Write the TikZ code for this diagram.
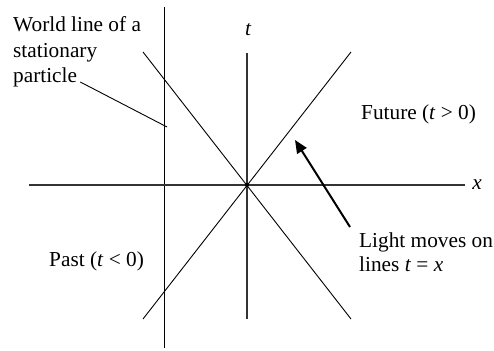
\documentclass[tikz,border=0pt]{standalone}
\usepackage{fontspec}
\setmainfont{Liberation Serif}
\usetikzlibrary{arrows.meta}
\begin{document}
\begin{tikzpicture}[x=1pt,y=1pt,
  axis/.style={line width=1.4pt, draw=black!80},
  light/.style={line width=0.9pt, draw=black},
  pointer/.style={line width=0.9pt, draw=black},
  bigarrow/.style={line width=2pt, draw=black, -{Triangle[length=13pt,width=11pt]}},
  lbl/.style={inner sep=0pt, anchor=base west, font=\fontsize{21.3}{25}\selectfont},
  axlbl/.style={inner sep=0pt, anchor=base, font=\fontsize{21.3}{25}\selectfont\itshape},
  dot/.style={circle, fill=black, inner sep=0pt, minimum size=4pt}
]
\useasboundingbox (0,0) rectangle (494,350);
% key points
\coordinate (xL) at (29,165);
\coordinate (xR) at (465,165);
\coordinate (tB) at (247,31);
\coordinate (tT) at (247,297);
\coordinate (sT) at (164,343);
\coordinate (sB) at (164,2);
\coordinate (d1a) at (143,31);
\coordinate (d1b) at (351,298);
\coordinate (d2a) at (143,298);
\coordinate (d2b) at (351,31);
\coordinate (wp) at (167,223);
\coordinate (atail) at (350,123);
\coordinate (ahead) at (295,210);
% lines
\draw[light] (d1a) -- (d1b);
\draw[light] (d2a) -- (d2b);
\draw[light] (sB) -- (sT);
\draw[axis] (xL) -- (xR);
\draw[axis] (tB) -- (tT);
\node[dot] (O) at (247,165) {};
% axis labels
\node[axlbl] (tl) at (248,314) {t};
\node[axlbl] (xl) at (477,160) {x};
% texts
\node[lbl] (w1) at (13,318) {World line of a};
\node[lbl] (w2) at (13,292) {stationary};
\node[lbl] (w3) at (13,267) {particle};
\node[lbl] (fut) at (361,230) {Future (\textit{t} > 0)};
\node[lbl] (past) at (49,83) {Past (\textit{t} < 0)};
\node[lbl] (lm1) at (359,102) {Light moves on};
\node[lbl] (lm2) at (359,78) {lines \textit{t} = \textit{x}};
% connectors
\draw[pointer] ([xshift=3pt,yshift=1pt]w3.base east) -- (wp);
\draw[bigarrow] (atail) -- (ahead);
\end{tikzpicture}
\end{document}
